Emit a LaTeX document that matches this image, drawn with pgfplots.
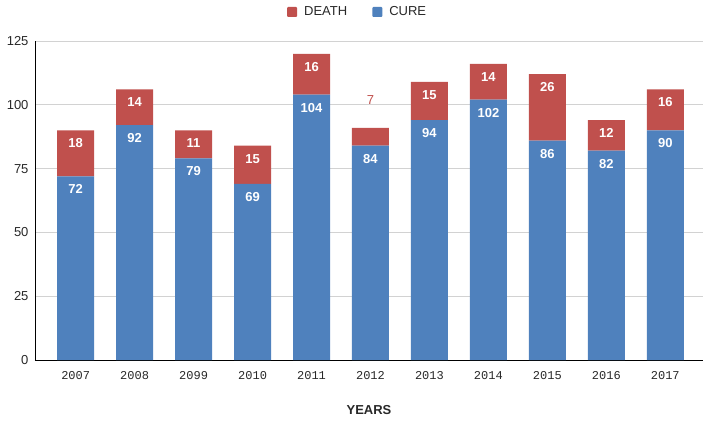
\documentclass[border=0pt]{standalone}
\usepackage{pgfplots}
\pgfplotsset{compat=1.18}
\usepackage{pgfplotstable}
\usepackage{fontspec}
\setmainfont{Liberation Sans}
\setmonofont{Liberation Mono}
\definecolor{cureblue}{RGB}{79,129,189}
\definecolor{deathred}{RGB}{192,80,77}
\definecolor{txtgray}{RGB}{40,40,40}
\pgfplotstableread{
x cure death dy
0 72 18 -13
1 92 14 -13
2 79 11 -13
3 69 15 -13
4 104 16 -13
5 84 7 28
6 94 15 -13
7 102 14 -13
8 86 26 -13
9 82 12 -13
10 90 16 -13
}\datatable
\begin{document}
\begin{tikzpicture}
\begin{axis}[
  scale only axis, width=668pt, height=319pt,
  ybar stacked, bar width=37pt,
  xmin=-0.69, xmax=10.64, ymin=0, ymax=125,
  xtick=data,
  xticklabels={2007,2008,2099,2010,2011,2012,2013,2014,2015,2016,2017},
  ytick={0,25,50,75,100,125},
  axis x line=bottom, axis y line=left,
  axis line style={-, black, line width=0.9pt},
  ymajorgrids, grid style={gray!35, line width=0.7pt},
  major tick length=0pt,
  /pgf/number format/assume math mode=true,
  xticklabel style={font=\ttfamily\fontsize{12}{12}\selectfont, text=txtgray, yshift=-8pt},
  yticklabel style={font=\fontsize{13}{13}\selectfont, text=txtgray, xshift=-3pt},
  xlabel={YEARS},
  xlabel style={font=\bfseries\fontsize{13}{13}\selectfont, text=txtgray, at={(axis description cs:0.5,0)}, anchor=center, yshift=-50pt},
  legend style={at={(axis description cs:0.483,1)}, anchor=center, yshift=29pt, draw=none,
    font=\fontsize{13}{13}\selectfont, text=txtgray, legend columns=2,
    /tikz/every odd column/.append style={column sep=5pt},
    /tikz/every even column/.append style={column sep=23pt}},
  legend image code/.code={\fill[#1, draw=none, rounded corners=1pt] (0pt,-5pt) rectangle (10pt,5pt);},
  reverse legend,
]
\addplot[fill=cureblue, draw=none,
  nodes near coords, point meta=explicit,
  visualization depends on={\thisrow{cure}*1.276-13 \as \sh},
  every node near coord/.append style={font=\bfseries\fontsize{13}{13}\selectfont, text=white, anchor=center, yshift=\sh pt}]
  table[x=x, y=cure, meta=cure]{\datatable};
\addlegendentry{CURE}
\addplot[fill=deathred, draw=none,
  point meta=explicit,
  visualization depends on={\thisrow{dy} \as \dy},
  visualization depends on={\thisrow{death}*1.276+\thisrow{dy} \as \sh},
  nodes near coords={\ifdim\dy pt>0pt \color{deathred}\mdseries\fi\pgfmathprintnumber{\pgfplotspointmeta}},
  every node near coord/.append style={font=\bfseries\fontsize{13}{13}\selectfont, text=white, anchor=center, yshift=\sh pt}]
  table[x=x, y=death, meta=death]{\datatable};
\addlegendentry{DEATH}
\end{axis}
\pgfresetboundingbox
\path ([xshift=-35pt,yshift=-61pt]current axis.south west) rectangle ([xshift=5pt,yshift=41pt]current axis.north east);
\end{tikzpicture}
\end{document}
